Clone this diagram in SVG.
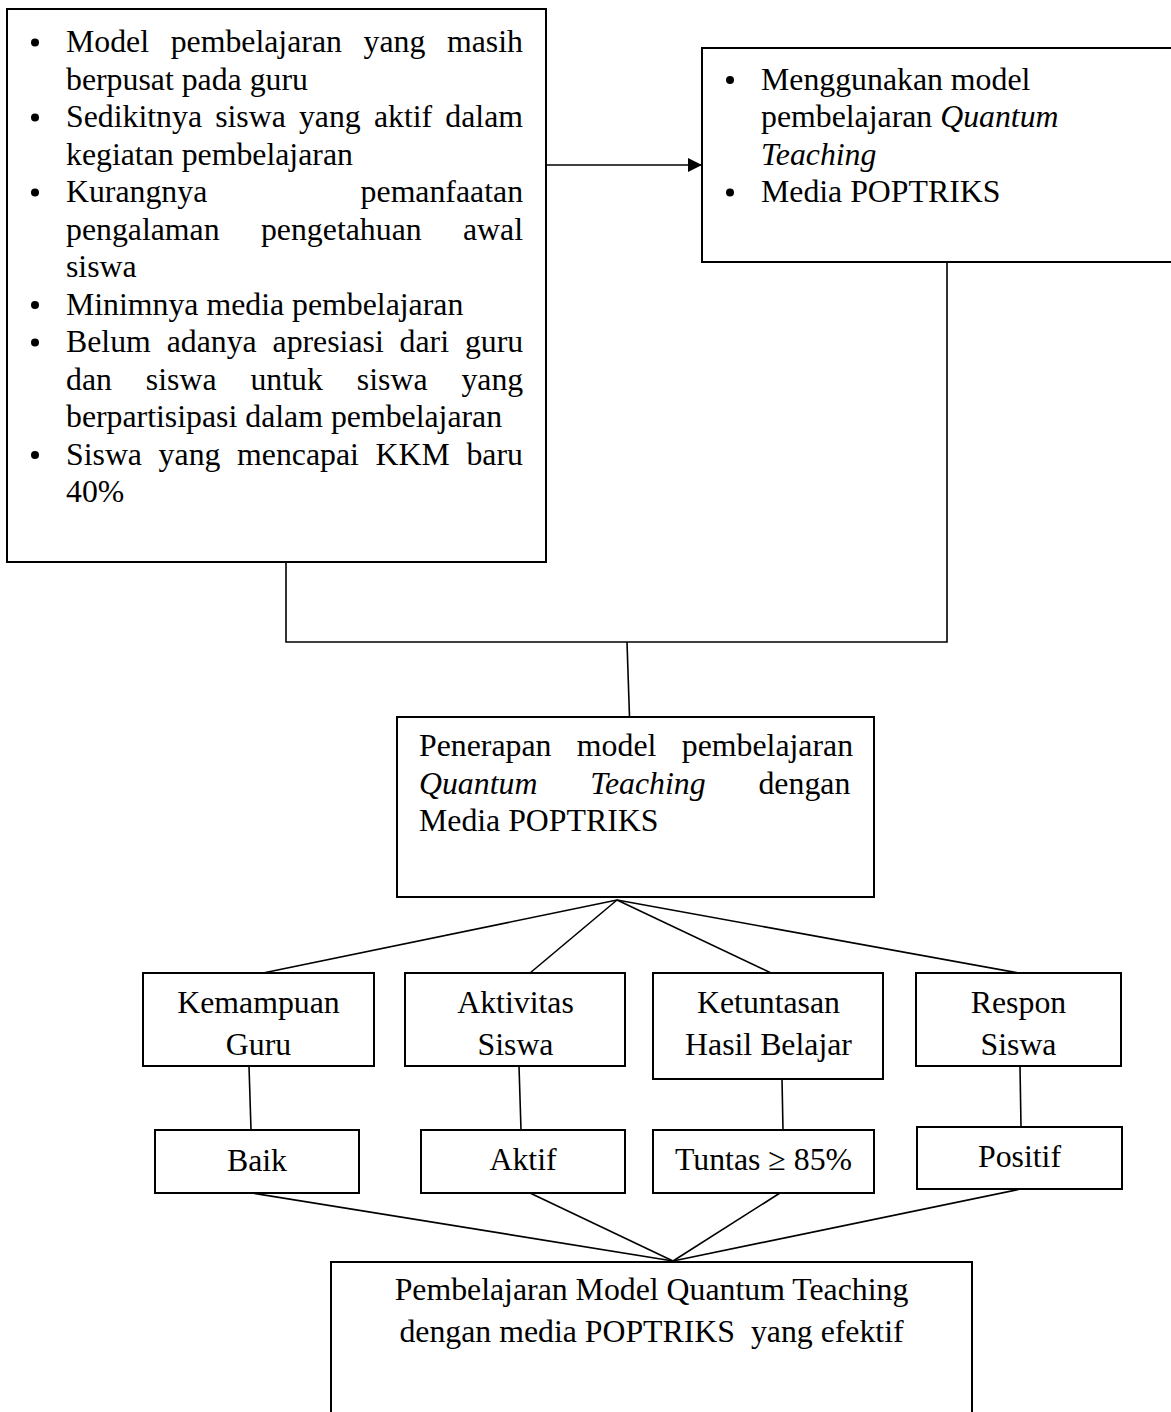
<svg xmlns="http://www.w3.org/2000/svg" width="1171" height="1412" viewBox="0 0 1171 1412">
<style>
.box{fill:#fff;stroke:#000;stroke-width:2}
.ln{stroke:#000;stroke-width:1.6;fill:none}
.t{font-family:"Liberation Serif","Times New Roman",serif;font-size:31.8px;fill:#000}
.c{text-anchor:middle}
.i{font-style:italic}
.b{fill:#000}
</style>
<defs>
<marker id="arr" viewBox="0 0 14 14" refX="14" refY="7" markerWidth="14" markerHeight="14" markerUnits="userSpaceOnUse" orient="auto">
<path d="M0,0 L14,7 L0,14 Z" fill="#000"/>
</marker>
</defs>
<rect width="1171" height="1412" fill="#fff"/>

<g id="connectors">
<line class="ln" x1="546" y1="165" x2="702" y2="165" marker-end="url(#arr)"/>
<polyline class="ln" points="286,562 286,642 947,642 947,262"/>
<line class="ln" x1="627" y1="642" x2="629.5" y2="717"/>
<line class="ln" x1="617" y1="900" x2="263" y2="973"/>
<line class="ln" x1="617" y1="900" x2="530" y2="973"/>
<line class="ln" x1="617" y1="900" x2="771" y2="973"/>
<line class="ln" x1="617" y1="900" x2="1019" y2="973"/>
<line class="ln" x1="249" y1="1066" x2="251" y2="1130"/>
<line class="ln" x1="519" y1="1066" x2="521" y2="1130"/>
<line class="ln" x1="782" y1="1079" x2="783" y2="1130"/>
<line class="ln" x1="1020" y1="1066" x2="1021" y2="1127"/>
<line class="ln" x1="252" y1="1193" x2="673" y2="1261"/>
<line class="ln" x1="530" y1="1193" x2="673" y2="1261"/>
<line class="ln" x1="780" y1="1193" x2="673" y2="1261"/>
<line class="ln" x1="1021" y1="1189" x2="673" y2="1261"/>
</g>

<g id="problems">
<rect class="box" x="7" y="9" width="539" height="553"/>
<circle class="b" cx="35" cy="42.5" r="4"/>
<circle class="b" cx="35" cy="117.5" r="4"/>
<circle class="b" cx="35" cy="192.5" r="4"/>
<circle class="b" cx="35" cy="305" r="4"/>
<circle class="b" cx="35" cy="342.5" r="4"/>
<circle class="b" cx="35" cy="455" r="4"/>
<text class="t" x="66" y="52" style="word-spacing:13.7px">Model pembelajaran yang masih</text>
<text class="t" x="66" y="89.5">berpusat pada guru</text>
<text class="t" x="66" y="127" style="word-spacing:5.2px">Sedikitnya siswa yang aktif dalam</text>
<text class="t" x="66" y="164.5">kegiatan pembelajaran</text>
<text class="t" x="66" y="202" style="word-spacing:145.4px">Kurangnya pemanfaatan</text>
<text class="t" x="66" y="239.5" style="word-spacing:33.4px">pengalaman pengetahuan awal</text>
<text class="t" x="66" y="277">siswa</text>
<text class="t" x="66" y="314.5">Minimnya media pembelajaran</text>
<text class="t" x="66" y="352" style="word-spacing:7.9px">Belum adanya apresiasi dari guru</text>
<text class="t" x="66" y="389.5" style="word-spacing:26px">dan siswa untuk siswa yang</text>
<text class="t" x="66" y="427">berpartisipasi dalam pembelajaran</text>
<text class="t" x="66" y="464.5" style="word-spacing:8.7px">Siswa yang mencapai KKM baru</text>
<text class="t" x="66" y="502">40%</text>
</g>

<g id="solution">
<rect class="box" x="702" y="48" width="480" height="214"/>
<circle class="b" cx="730" cy="80" r="4"/>
<circle class="b" cx="730" cy="192.5" r="4"/>
<text class="t" x="761" y="89.5">Menggunakan model</text>
<text class="t" x="761" y="127">pembelajaran <tspan class="i">Quantum</tspan></text>
<text class="t i" x="761" y="164.5">Teaching</text>
<text class="t" x="761" y="202">Media POPTRIKS</text>
</g>

<g id="penerapan">
<rect class="box" x="397" y="717" width="477" height="180"/>
<text class="t" x="419" y="756" style="word-spacing:17.5px">Penerapan model pembelajaran</text>
<text class="t" x="419" y="793.5" style="word-spacing:44.9px"><tspan class="i">Quantum Teaching</tspan> dengan</text>
<text class="t" x="419" y="831">Media POPTRIKS</text>
</g>

<g id="kemampuan-guru">
<rect class="box" x="143" y="973" width="231" height="93"/>
<text class="t c" x="258.5" y="1013">Kemampuan</text>
<text class="t c" x="258.5" y="1055">Guru</text>
</g>
<g id="aktivitas-siswa">
<rect class="box" x="405" y="973" width="220" height="93"/>
<text class="t c" x="515.5" y="1013">Aktivitas</text>
<text class="t c" x="515.5" y="1055">Siswa</text>
</g>
<g id="ketuntasan">
<rect class="box" x="653" y="973" width="230" height="106"/>
<text class="t c" x="768.5" y="1013">Ketuntasan</text>
<text class="t c" x="768.5" y="1055">Hasil Belajar</text>
</g>
<g id="respon-siswa">
<rect class="box" x="916" y="973" width="205" height="93"/>
<text class="t c" x="1018.5" y="1013">Respon</text>
<text class="t c" x="1018.5" y="1055">Siswa</text>
</g>

<g id="baik">
<rect class="box" x="155" y="1130" width="204" height="63"/>
<text class="t c" x="257" y="1171">Baik</text>
</g>
<g id="aktif">
<rect class="box" x="421" y="1130" width="204" height="63"/>
<text class="t c" x="523" y="1170">Aktif</text>
</g>
<g id="tuntas">
<rect class="box" x="653" y="1130" width="221" height="63"/>
<text class="t c" x="763.5" y="1170">Tuntas ≥ 85%</text>
</g>
<g id="positif">
<rect class="box" x="917" y="1127" width="205" height="62"/>
<text class="t c" x="1019.5" y="1167">Positif</text>
</g>

<g id="hasil">
<rect class="box" x="331" y="1262" width="641" height="200"/>
<text class="t c" x="651.5" y="1300">Pembelajaran Model Quantum Teaching</text>
<text class="t c" x="651.5" y="1342" style="white-space:pre">dengan media POPTRIKS  yang efektif</text>
</g>
</svg>
